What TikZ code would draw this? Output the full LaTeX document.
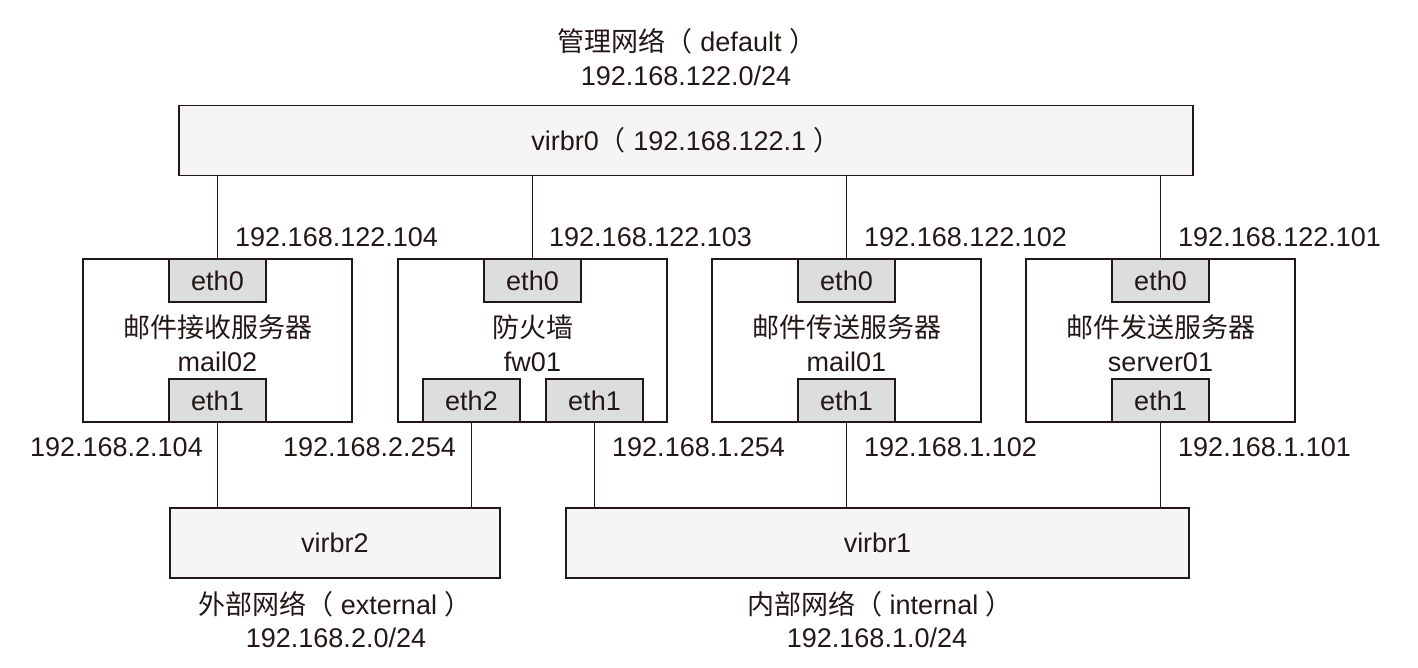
\documentclass[tikz,border=0pt]{standalone}
\usepackage{fontspec}
\setmainfont{Liberation Sans}
\newfontfamily\cjk{Noto Sans CJK SC}
\definecolor{ink}{HTML}{231815}
\definecolor{bridgefill}{HTML}{F5F5F5}
\definecolor{portfill}{HTML}{DCDDDD}
\begin{document}
\begin{tikzpicture}[x=1pt,y=-1pt,
  font=\fontsize{27}{32}\selectfont, text=ink,
  bridge/.style={draw=ink, line width=1.5pt, fill=bridgefill, minimum height=70, inner sep=0pt},
  host/.style={draw=ink, line width=1.5pt, fill=white, minimum width=269, minimum height=163, inner sep=0pt},
  port/.style={draw=ink, line width=1.5pt, fill=portfill, minimum width=97, minimum height=43, inner sep=0pt},
  lbl/.style={inner sep=0pt},
  wire/.style={draw=ink, line width=1.5pt}]
\useasboundingbox (0,0) rectangle (1418,667);

% management network
\node[lbl] (mgmttitle) at (687,41) {{\cjk 管理网络（}\ default\ {\cjk ）}};
\node[lbl] (mgmtnet) at (686,76) {192.168.122.0/24};
\node[bridge, minimum width=1014] (virbr0) at (686,140.5) {};
\node[lbl] (virbr0t) at (686,140) {virbr0{\cjk（}\ 192.168.122.1\ {\cjk ）}};

% hosts
\node[host] (mail02) at (217.5,340.5) {};
\node[host] (fw01) at (532.5,340.5) {};
\node[host] (mail01) at (846.5,340.5) {};
\node[host] (server01) at (1160.5,340.5) {};

\node[lbl] (mail02a) at (217.5,327) {\cjk 邮件接收服务器};
\node[lbl] (mail02b) at (217.5,362) {mail02};
\node[lbl] (fw01a) at (532.5,327) {\cjk 防火墙};
\node[lbl] (fw01b) at (532.5,362) {fw01};
\node[lbl] (mail01a) at (846.5,327) {\cjk 邮件传送服务器};
\node[lbl] (mail01b) at (846.5,362) {mail01};
\node[lbl] (server01a) at (1160.5,327) {\cjk 邮件发送服务器};
\node[lbl] (server01b) at (1160.5,362) {server01};

% ports
\node[port] (m2e0) at (217.5,280.5) {eth0};
\node[port] (m2e1) at (217.5,400.5) {eth1};
\node[port] (fwe0) at (532.5,280.5) {eth0};
\node[port] (fwe2) at (471.5,400.5) {eth2};
\node[port] (fwe1) at (594.5,400.5) {eth1};
\node[port] (m1e0) at (846.5,280.5) {eth0};
\node[port] (m1e1) at (846.5,400.5) {eth1};
\node[port] (s1e0) at (1160.5,280.5) {eth0};
\node[port] (s1e1) at (1160.5,400.5) {eth1};

% bottom bridges
\node[bridge, minimum width=330] (virbr2) at (335,543) {virbr2};
\node[bridge, minimum width=623] (virbr1) at (877.5,543) {virbr1};
\node[lbl] (extt) at (335,604) {{\cjk 外部网络（}\ external\ {\cjk ）}};
\node[lbl] (extn) at (336,638) {192.168.2.0/24};
\node[lbl] (intt) at (880,604) {{\cjk 内部网络（}\ internal\ {\cjk ）}};
\node[lbl] (intn) at (877,638) {192.168.1.0/24};

% connectors
\draw[wire] (m2e0.north |- virbr0.south) -- (m2e0.north);
\draw[wire] (fwe0.north |- virbr0.south) -- (fwe0.north);
\draw[wire] (m1e0.north |- virbr0.south) -- (m1e0.north);
\draw[wire] (s1e0.north |- virbr0.south) -- (s1e0.north);
\draw[wire] (m2e1.south) -- (m2e1.south |- virbr2.north);
\draw[wire] (fwe2.south) -- (fwe2.south |- virbr2.north);
\draw[wire] (fwe1.south) -- (fwe1.south |- virbr1.north);
\draw[wire] (m1e1.south) -- (m1e1.south |- virbr1.north);
\draw[wire] (s1e1.south) -- (s1e1.south |- virbr1.north);

% address labels
\node[lbl, anchor=west] (ip104) at (235,237) {192.168.122.104};
\node[lbl, anchor=west] (ip103) at (549,237) {192.168.122.103};
\node[lbl, anchor=west] (ip102) at (864,237) {192.168.122.102};
\node[lbl, anchor=west] (ip101) at (1178,237) {192.168.122.101};
\node[lbl, anchor=east] (ip2104) at (203,447) {192.168.2.104};
\node[lbl, anchor=east] (ip2254) at (456,447) {192.168.2.254};
\node[lbl, anchor=west] (ip1254) at (612,447) {192.168.1.254};
\node[lbl, anchor=west] (ip1102) at (864,447) {192.168.1.102};
\node[lbl, anchor=west] (ip1101) at (1178,447) {192.168.1.101};
\end{tikzpicture}
\end{document}
